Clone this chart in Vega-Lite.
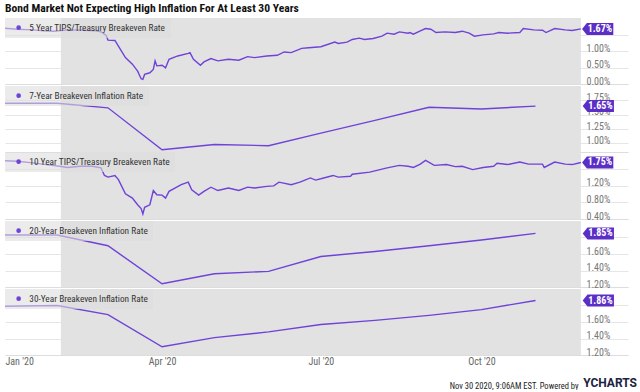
{
  "$schema": "https://vega.github.io/schema/vega-lite/v6.json",
  "padding": {"left": 5, "top": 3, "right": 0, "bottom": 0},
  "title": {"text": "Bond Market Not Expecting High Inflation For At Least 30 Years", "anchor": "start", "fontSize": 11.6, "fontWeight": "bold", "font": "Roboto Condensed", "color": "#111111", "offset": 3},
  "spacing": 0,
  "resolve": {"scale": {"color": "independent"}, "legend": {"color": "independent"}},
  "datasets": {
    "band": [{"start": "2020-02-03", "end": "2020-11-27"}],
    "d5": [
      {"date": "2020-01-02", "v": 1.69}, {"date": "2020-01-09", "v": 1.66}, {"date": "2020-01-18", "v": 1.64}, {"date": "2020-01-24", "v": 1.61},
      {"date": "2020-01-30", "v": 1.60}, {"date": "2020-02-07", "v": 1.64}, {"date": "2020-02-16", "v": 1.63}, {"date": "2020-02-23", "v": 1.61},
      {"date": "2020-02-26", "v": 1.58}, {"date": "2020-02-29", "v": 1.47}, {"date": "2020-03-01", "v": 1.33}, {"date": "2020-03-05", "v": 1.32},
      {"date": "2020-03-07", "v": 1.15}, {"date": "2020-03-11", "v": 0.80}, {"date": "2020-03-15", "v": 0.60}, {"date": "2020-03-18", "v": 0.39},
      {"date": "2020-03-20", "v": 0.16}, {"date": "2020-03-21", "v": 0.14}, {"date": "2020-03-22", "v": 0.29}, {"date": "2020-03-25", "v": 0.34},
      {"date": "2020-03-27", "v": 0.44}, {"date": "2020-03-28", "v": 0.70}, {"date": "2020-03-29", "v": 0.55}, {"date": "2020-04-01", "v": 0.57},
      {"date": "2020-04-03", "v": 0.49}, {"date": "2020-04-05", "v": 0.75}, {"date": "2020-04-10", "v": 0.85}, {"date": "2020-04-16", "v": 0.93},
      {"date": "2020-04-17", "v": 0.95}, {"date": "2020-04-19", "v": 0.75}, {"date": "2020-04-23", "v": 0.57}, {"date": "2020-04-25", "v": 0.67},
      {"date": "2020-04-29", "v": 0.77}, {"date": "2020-05-03", "v": 0.70}, {"date": "2020-05-09", "v": 0.75}, {"date": "2020-05-15", "v": 0.72},
      {"date": "2020-05-20", "v": 0.83}, {"date": "2020-05-24", "v": 0.80}, {"date": "2020-05-31", "v": 0.85}, {"date": "2020-06-06", "v": 0.87},
      {"date": "2020-06-10", "v": 0.97}, {"date": "2020-06-14", "v": 0.95}, {"date": "2020-06-20", "v": 1.08}, {"date": "2020-06-24", "v": 1.10},
      {"date": "2020-07-01", "v": 1.13}, {"date": "2020-07-09", "v": 1.27}, {"date": "2020-07-11", "v": 1.23}, {"date": "2020-07-16", "v": 1.27},
      {"date": "2020-07-19", "v": 1.35}, {"date": "2020-07-23", "v": 1.39}, {"date": "2020-07-26", "v": 1.35}, {"date": "2020-07-31", "v": 1.38},
      {"date": "2020-08-05", "v": 1.45}, {"date": "2020-08-08", "v": 1.54}, {"date": "2020-08-12", "v": 1.51}, {"date": "2020-08-15", "v": 1.58},
      {"date": "2020-08-20", "v": 1.54}, {"date": "2020-08-21", "v": 1.56}, {"date": "2020-08-23", "v": 1.51}, {"date": "2020-08-27", "v": 1.61},
      {"date": "2020-08-30", "v": 1.68}, {"date": "2020-09-02", "v": 1.66}, {"date": "2020-09-05", "v": 1.56}, {"date": "2020-09-10", "v": 1.58},
      {"date": "2020-09-16", "v": 1.56}, {"date": "2020-09-20", "v": 1.60}, {"date": "2020-09-24", "v": 1.54}, {"date": "2020-09-27", "v": 1.45},
      {"date": "2020-10-02", "v": 1.49}, {"date": "2020-10-08", "v": 1.52}, {"date": "2020-10-11", "v": 1.56}, {"date": "2020-10-16", "v": 1.54},
      {"date": "2020-10-23", "v": 1.56}, {"date": "2020-10-25", "v": 1.68}, {"date": "2020-10-31", "v": 1.64}, {"date": "2020-11-05", "v": 1.63},
      {"date": "2020-11-07", "v": 1.56}, {"date": "2020-11-12", "v": 1.68}, {"date": "2020-11-18", "v": 1.64}, {"date": "2020-11-22", "v": 1.62},
      {"date": "2020-11-27", "v": 1.67}
    ],
    "d7": [
      {"date": "2020-01-01", "v": 1.70}, {"date": "2020-02-01", "v": 1.70}, {"date": "2020-03-01", "v": 1.62}, {"date": "2020-04-01", "v": 0.89},
      {"date": "2020-05-01", "v": 0.98}, {"date": "2020-06-01", "v": 0.96}, {"date": "2020-07-01", "v": 1.18}, {"date": "2020-08-01", "v": 1.40},
      {"date": "2020-09-01", "v": 1.63}, {"date": "2020-10-01", "v": 1.60}, {"date": "2020-11-01", "v": 1.65}
    ],
    "d10": [
      {"date": "2020-01-02", "v": 1.79}, {"date": "2020-01-09", "v": 1.78}, {"date": "2020-01-18", "v": 1.74}, {"date": "2020-01-29", "v": 1.68},
      {"date": "2020-02-02", "v": 1.66}, {"date": "2020-02-07", "v": 1.63}, {"date": "2020-02-14", "v": 1.66}, {"date": "2020-02-21", "v": 1.66},
      {"date": "2020-02-26", "v": 1.62}, {"date": "2020-02-28", "v": 1.44}, {"date": "2020-03-01", "v": 1.40}, {"date": "2020-03-05", "v": 1.44},
      {"date": "2020-03-07", "v": 1.34}, {"date": "2020-03-11", "v": 1.00}, {"date": "2020-03-15", "v": 0.90}, {"date": "2020-03-18", "v": 0.74},
      {"date": "2020-03-20", "v": 0.65}, {"date": "2020-03-21", "v": 0.52}, {"date": "2020-03-22", "v": 0.68}, {"date": "2020-03-25", "v": 0.74},
      {"date": "2020-03-27", "v": 1.08}, {"date": "2020-03-29", "v": 0.98}, {"date": "2020-04-01", "v": 0.97}, {"date": "2020-04-03", "v": 0.90},
      {"date": "2020-04-05", "v": 1.06}, {"date": "2020-04-12", "v": 1.22}, {"date": "2020-04-16", "v": 1.28}, {"date": "2020-04-18", "v": 1.10},
      {"date": "2020-04-22", "v": 0.97}, {"date": "2020-04-25", "v": 1.06}, {"date": "2020-04-29", "v": 1.16}, {"date": "2020-05-03", "v": 1.08},
      {"date": "2020-05-09", "v": 1.14}, {"date": "2020-05-15", "v": 1.08}, {"date": "2020-05-20", "v": 1.16}, {"date": "2020-05-24", "v": 1.14},
      {"date": "2020-05-31", "v": 1.18}, {"date": "2020-06-04", "v": 1.19}, {"date": "2020-06-07", "v": 1.28}, {"date": "2020-06-14", "v": 1.22},
      {"date": "2020-06-19", "v": 1.28}, {"date": "2020-06-25", "v": 1.38}, {"date": "2020-06-28", "v": 1.33}, {"date": "2020-07-01", "v": 1.36},
      {"date": "2020-07-08", "v": 1.44}, {"date": "2020-07-11", "v": 1.40}, {"date": "2020-07-18", "v": 1.42}, {"date": "2020-07-19", "v": 1.47},
      {"date": "2020-07-29", "v": 1.52}, {"date": "2020-08-08", "v": 1.62}, {"date": "2020-08-15", "v": 1.68}, {"date": "2020-08-20", "v": 1.66},
      {"date": "2020-08-23", "v": 1.63}, {"date": "2020-08-27", "v": 1.71}, {"date": "2020-08-30", "v": 1.80}, {"date": "2020-09-04", "v": 1.68},
      {"date": "2020-09-11", "v": 1.70}, {"date": "2020-09-16", "v": 1.65}, {"date": "2020-09-20", "v": 1.66}, {"date": "2020-09-26", "v": 1.58},
      {"date": "2020-10-02", "v": 1.63}, {"date": "2020-10-08", "v": 1.66}, {"date": "2020-10-10", "v": 1.73}, {"date": "2020-10-16", "v": 1.70},
      {"date": "2020-10-23", "v": 1.76}, {"date": "2020-10-28", "v": 1.71}, {"date": "2020-11-05", "v": 1.71}, {"date": "2020-11-06", "v": 1.63},
      {"date": "2020-11-12", "v": 1.76}, {"date": "2020-11-18", "v": 1.71}, {"date": "2020-11-22", "v": 1.70}, {"date": "2020-11-27", "v": 1.75}
    ],
    "d20": [
      {"date": "2020-01-01", "v": 1.83}, {"date": "2020-02-01", "v": 1.83}, {"date": "2020-03-01", "v": 1.70}, {"date": "2020-04-01", "v": 1.24},
      {"date": "2020-05-01", "v": 1.36}, {"date": "2020-06-01", "v": 1.39}, {"date": "2020-07-01", "v": 1.57}, {"date": "2020-08-01", "v": 1.63},
      {"date": "2020-09-01", "v": 1.70}, {"date": "2020-10-01", "v": 1.77}, {"date": "2020-11-01", "v": 1.85}
    ],
    "d30": [
      {"date": "2020-01-01", "v": 1.79}, {"date": "2020-02-01", "v": 1.80}, {"date": "2020-03-01", "v": 1.69}, {"date": "2020-04-01", "v": 1.30},
      {"date": "2020-05-01", "v": 1.41}, {"date": "2020-06-01", "v": 1.48}, {"date": "2020-07-01", "v": 1.57}, {"date": "2020-08-01", "v": 1.62},
      {"date": "2020-09-01", "v": 1.68}, {"date": "2020-10-01", "v": 1.75}, {"date": "2020-11-01", "v": 1.86}
    ]
  },
  "vconcat": [
    {
      "width": 623, "height": 66,
      "layer": [
        {"data": {"name": "band"}, "mark": {"type": "rect", "color": "#e2e2e2"},
         "encoding": {"x": {"field": "start", "type": "temporal", "scale": {"type": "utc", "domain": [{"year": 2020, "month": 1, "date": 2, "utc": true}, {"year": 2020, "month": 12, "date": 24, "utc": true}]}, "axis": {"labels": false, "ticks": false, "domain": true, "grid": false, "title": null}}, "x2": {"field": "end"}}},
        {"data": {"name": "d5"}, "mark": {"type": "line", "strokeWidth": 1.4, "clip": true},
         "encoding": {"x": {"field": "date", "type": "temporal"},
                      "y": {"field": "v", "type": "quantitative", "scale": {"domain": [0, 2.0], "nice": false, "zero": false}, "axis": {"values": [0, 0.5, 1.0, 1.5], "tickCount": 10, "labelExpr": "datum.value == 1.5 ? '' : format(datum.value, '.2f') + '%'"}},
                      "color": {"datum": "5 Year TIPS/Treasury Breakeven Rate", "type": "nominal", "scale": {"range": ["#6f42d8"]}}}},
        {"data": {"name": "d5"},
         "transform": [{"window": [{"op": "row_number", "as": "rk"}], "sort": [{"field": "date", "order": "descending"}]}, {"filter": "datum.rk == 1"}, {"calculate": "format(datum.v, '.2f') + '%'", "as": "lab"}],
         "layer": [
           {"mark": {"type": "point", "shape": "M0.2,0L1,-1L5.4,-1L5.4,1L1,1Z", "size": 144, "filled": true, "fill": "#5b2ec6", "opacity": 1, "strokeWidth": 0},
            "encoding": {"x": {"field": "date", "type": "temporal"}, "y": {"field": "v", "type": "quantitative"}}},
           {"mark": {"type": "text", "dx": 19, "color": "white", "fontSize": 10, "fontWeight": "bold", "align": "center", "baseline": "middle"},
            "encoding": {"x": {"field": "date", "type": "temporal"}, "y": {"field": "v", "type": "quantitative"}, "text": {"field": "lab"}}}
         ]}
      ]
    },
    {
      "width": 623, "height": 66,
      "layer": [
        {"data": {"name": "band"}, "mark": {"type": "rect", "color": "#e2e2e2"},
         "encoding": {"x": {"field": "start", "type": "temporal", "scale": {"type": "utc", "domain": [{"year": 2020, "month": 1, "date": 2, "utc": true}, {"year": 2020, "month": 12, "date": 24, "utc": true}]}, "axis": {"labels": false, "ticks": false, "domain": true, "grid": false, "title": null}}, "x2": {"field": "end"}}},
        {"data": {"name": "d7"}, "mark": {"type": "line", "strokeWidth": 1.4, "clip": true},
         "encoding": {"x": {"field": "date", "type": "temporal"},
                      "y": {"field": "v", "type": "quantitative", "scale": {"domain": [0.85, 2.0], "nice": false, "zero": false}, "axis": {"values": [1.0, 1.25, 1.5, 1.75], "tickCount": 10}},
                      "color": {"datum": "7-Year Breakeven Inflation Rate", "type": "nominal", "scale": {"range": ["#6f42d8"]}}}},
        {"data": {"name": "d7"},
         "transform": [{"window": [{"op": "row_number", "as": "rk"}], "sort": [{"field": "date", "order": "descending"}]}, {"filter": "datum.rk == 1"}, {"calculate": "format(datum.v, '.2f') + '%'", "as": "lab"}],
         "layer": [
           {"mark": {"type": "point", "shape": "M0.2,0L1,-1L5.4,-1L5.4,1L1,1Z", "size": 144, "filled": true, "fill": "#5b2ec6", "opacity": 1, "strokeWidth": 0, "xOffset": 46},
            "encoding": {"x": {"field": "date", "type": "temporal"}, "y": {"field": "v", "type": "quantitative"}}},
           {"mark": {"type": "text", "dx": 65, "color": "white", "fontSize": 10, "fontWeight": "bold", "align": "center", "baseline": "middle"},
            "encoding": {"x": {"field": "date", "type": "temporal"}, "y": {"field": "v", "type": "quantitative"}, "text": {"field": "lab"}}}
         ]}
      ]
    },
    {
      "width": 623, "height": 67,
      "layer": [
        {"data": {"name": "band"}, "mark": {"type": "rect", "color": "#e2e2e2"},
         "encoding": {"x": {"field": "start", "type": "temporal", "scale": {"type": "utc", "domain": [{"year": 2020, "month": 1, "date": 2, "utc": true}, {"year": 2020, "month": 12, "date": 24, "utc": true}]}, "axis": {"labels": false, "ticks": false, "domain": true, "grid": false, "title": null}}, "x2": {"field": "end"}}},
        {"data": {"name": "d10"}, "mark": {"type": "line", "strokeWidth": 1.4, "clip": true},
         "encoding": {"x": {"field": "date", "type": "temporal"},
                      "y": {"field": "v", "type": "quantitative", "scale": {"domain": [0.4, 2.0], "nice": false, "zero": false}, "axis": {"values": [0.4, 0.8, 1.2, 1.6], "tickCount": 10, "labelExpr": "datum.value == 1.6 ? '' : format(datum.value, '.2f') + '%'"}},
                      "color": {"datum": "10 Year TIPS/Treasury Breakeven Rate", "type": "nominal", "scale": {"range": ["#6f42d8"]}}}},
        {"data": {"name": "d10"},
         "transform": [{"window": [{"op": "row_number", "as": "rk"}], "sort": [{"field": "date", "order": "descending"}]}, {"filter": "datum.rk == 1"}, {"calculate": "format(datum.v, '.2f') + '%'", "as": "lab"}],
         "layer": [
           {"mark": {"type": "point", "shape": "M0.2,0L1,-1L5.4,-1L5.4,1L1,1Z", "size": 144, "filled": true, "fill": "#5b2ec6", "opacity": 1, "strokeWidth": 0},
            "encoding": {"x": {"field": "date", "type": "temporal"}, "y": {"field": "v", "type": "quantitative"}}},
           {"mark": {"type": "text", "dx": 19, "color": "white", "fontSize": 10, "fontWeight": "bold", "align": "center", "baseline": "middle"},
            "encoding": {"x": {"field": "date", "type": "temporal"}, "y": {"field": "v", "type": "quantitative"}, "text": {"field": "lab"}}}
         ]}
      ]
    },
    {
      "width": 623, "height": 66,
      "layer": [
        {"data": {"name": "band"}, "mark": {"type": "rect", "color": "#e2e2e2"},
         "encoding": {"x": {"field": "start", "type": "temporal", "scale": {"type": "utc", "domain": [{"year": 2020, "month": 1, "date": 2, "utc": true}, {"year": 2020, "month": 12, "date": 24, "utc": true}]}, "axis": {"labels": false, "ticks": false, "domain": true, "grid": false, "title": null}}, "x2": {"field": "end"}}},
        {"data": {"name": "d20"}, "mark": {"type": "line", "strokeWidth": 1.4, "clip": true},
         "encoding": {"x": {"field": "date", "type": "temporal"},
                      "y": {"field": "v", "type": "quantitative", "scale": {"domain": [1.2, 2.0], "nice": false, "zero": false}, "axis": {"values": [1.2, 1.4, 1.6, 1.8], "tickCount": 10, "labelExpr": "datum.value == 1.8 ? '' : format(datum.value, '.2f') + '%'"}},
                      "color": {"datum": "20-Year Breakeven Inflation Rate", "type": "nominal", "scale": {"range": ["#6f42d8"]}}}},
        {"data": {"name": "d20"},
         "transform": [{"window": [{"op": "row_number", "as": "rk"}], "sort": [{"field": "date", "order": "descending"}]}, {"filter": "datum.rk == 1"}, {"calculate": "format(datum.v, '.2f') + '%'", "as": "lab"}],
         "layer": [
           {"mark": {"type": "point", "shape": "M0.2,0L1,-1L5.4,-1L5.4,1L1,1Z", "size": 144, "filled": true, "fill": "#5b2ec6", "opacity": 1, "strokeWidth": 0, "xOffset": 46},
            "encoding": {"x": {"field": "date", "type": "temporal"}, "y": {"field": "v", "type": "quantitative"}}},
           {"mark": {"type": "text", "dx": 65, "color": "white", "fontSize": 10, "fontWeight": "bold", "align": "center", "baseline": "middle"},
            "encoding": {"x": {"field": "date", "type": "temporal"}, "y": {"field": "v", "type": "quantitative"}, "text": {"field": "lab"}}}
         ]}
      ]
    },
    {
      "width": 623, "height": 66,
      "title": {"text": "YCHARTS", "orient": "bottom", "anchor": "end", "fontSize": 12, "fontWeight": "bold", "color": "#1c2340", "offset": 0, "dx": 9, "dy": -12, "font": "Roboto"},
      "layer": [
        {"data": {"name": "band"}, "mark": {"type": "rect", "color": "#e2e2e2"},
         "encoding": {"x": {"field": "start", "type": "temporal", "scale": {"type": "utc", "domain": [{"year": 2020, "month": 1, "date": 2, "utc": true}, {"year": 2020, "month": 12, "date": 24, "utc": true}]}}, "x2": {"field": "end"}}},
        {"data": {"name": "d30"}, "mark": {"type": "line", "strokeWidth": 1.4, "clip": true},
         "encoding": {"x": {"field": "date", "type": "temporal",
                            "axis": {"values": [{"year": 2020, "month": 1, "date": 2, "utc": true}, {"year": 2020, "month": 4, "date": 1, "utc": true}, {"year": 2020, "month": 7, "date": 1, "utc": true}, {"year": 2020, "month": 10, "date": 1, "utc": true}],
                                     "format": "%b '%y", "labelFlush": 6, "labelPadding": 1, "ticks": false, "domain": true, "grid": false, "tickCount": 20,
                                     "title": "Nov 30 2020, 9:06AM EST. Powered by", "titleX": 573, "titleY": 30, "titleAlign": "right", "titleAnchor": "end", "titleBaseline": "middle", "titleFontSize": 8.5, "titleFontWeight": "normal", "titleColor": "#222222"}},
                      "y": {"field": "v", "type": "quantitative", "scale": {"domain": [1.2, 2.0], "nice": false, "zero": false}, "axis": {"values": [1.2, 1.4, 1.6, 1.8], "tickCount": 10, "labelExpr": "datum.value == 1.8 ? '' : format(datum.value, '.2f') + '%'"}},
                      "color": {"datum": "30-Year Breakeven Inflation Rate", "type": "nominal", "scale": {"range": ["#6f42d8"]}}}},
        {"data": {"name": "d30"},
         "transform": [{"window": [{"op": "row_number", "as": "rk"}], "sort": [{"field": "date", "order": "descending"}]}, {"filter": "datum.rk == 1"}, {"calculate": "format(datum.v, '.2f') + '%'", "as": "lab"}],
         "layer": [
           {"mark": {"type": "point", "shape": "M0.2,0L1,-1L5.4,-1L5.4,1L1,1Z", "size": 144, "filled": true, "fill": "#5b2ec6", "opacity": 1, "strokeWidth": 0, "xOffset": 46},
            "encoding": {"x": {"field": "date", "type": "temporal"}, "y": {"field": "v", "type": "quantitative"}}},
           {"mark": {"type": "text", "dx": 65, "color": "white", "fontSize": 10, "fontWeight": "bold", "align": "center", "baseline": "middle"},
            "encoding": {"x": {"field": "date", "type": "temporal"}, "y": {"field": "v", "type": "quantitative"}, "text": {"field": "lab"}}}
         ]}
      ]
    }
  ],
  "config": {
    "font": "Roboto Condensed",
    "view": {"stroke": null},
    "text": {"font": "Roboto Condensed"},
    "axis": {"title": null, "labelFont": "Roboto Condensed", "titleFont": "Roboto Condensed"},
    "axisX": {"domainColor": "#dddddd", "domainWidth": 1, "labelColor": "#666666", "labelFontSize": 10},
    "axisY": {"orient": "right", "grid": true, "gridColor": "#e6e6e6", "domain": false, "ticks": false, "labelPadding": -42, "labelAlign": "left", "labelBaseline": "alphabetic", "labelFontSize": 10, "labelColor": "#777777", "labelOverlap": false, "labelExpr": "format(datum.value, '.2f') + '%'"},
    "legend": {"orient": "top-left", "offset": 0, "padding": 5, "fillColor": "rgba(222,222,222,0.6)", "labelFont": "Roboto Condensed", "labelFontSize": 9.3, "labelColor": "#333333", "symbolType": "circle", "symbolSize": 22, "symbolFillColor": "#6f42d8", "symbolStrokeColor": "#6f42d8", "symbolStrokeWidth": 0, "symbolOffset": 4, "labelOffset": 6, "title": null, "labelLimit": 300}
  }
}
